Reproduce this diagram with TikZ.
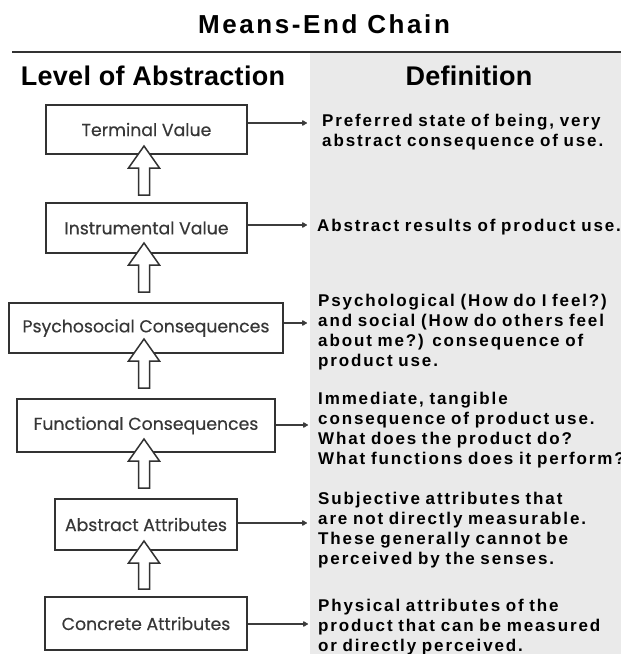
\documentclass[tikz,border=0pt]{standalone}
\usepackage{fontspec}
\setmainfont{Liberation Sans}
\newfontfamily\boxfont{Poppins}[FakeBold=0.4]
\newfontfamily\deffont{Liberation Sans}[LetterSpace=11]
\newfontfamily\titlefont{Liberation Sans}[LetterSpace=10]
\newfontfamily\headfont{Liberation Sans}[LetterSpace=1]
\usetikzlibrary{arrows.meta}
\definecolor{bgc}{RGB}{234,234,234}
\definecolor{ink}{RGB}{50,50,50}
\definecolor{connc}{RGB}{60,60,60}
\definecolor{boxtext}{RGB}{55,55,55}
\newcommand\hollowup[3]{%
  \draw[hollow] (#1,#2) -- (#1+15.5,#2+22) -- (#1+5.5,#2+22) -- (#1+5.5,#3)
    -- (#1-5.5,#3) -- (#1-5.5,#2+22) -- (#1-15.5,#2+22) -- cycle;}
\tikzset{
  lvbox/.style={draw=ink, line width=1.5pt, fill=white, inner sep=0pt,
    font=\boxfont\fontsize{17.3}{20}\selectfont, text=boxtext},
  conn/.style={draw=connc, line width=1.5pt, -{Latex[length=6pt,width=7pt,round]}},
  hollow/.style={draw=ink, line width=1.5pt, fill=white, line join=miter},
  deftext/.style={anchor=base west, inner sep=0pt, align=left, text width=330pt,
    font=\deffont\bfseries\fontsize{17}{20}\selectfont, text=black},
  headtext/.style={anchor=base, inner sep=0pt, font=\headfont\bfseries\fontsize{27}{30}\selectfont},
}
\begin{document}
\begin{tikzpicture}[x=1pt,y=-1pt]
\useasboundingbox (0,0) rectangle (621,654);
\fill[white] (0,0) rectangle (621,654);
\fill[bgc] (310,53) rectangle (621,654);
\draw[ink, line width=2pt] (12,52) -- (621,52);

\node[anchor=base, inner sep=0pt, font=\titlefont\bfseries\fontsize{26}{30}\selectfont] (title) at (324,33) {Means-End Chain};
\node[headtext] (hl) at (153,85) {Level of Abstraction};
\node[headtext] (hr) at (469,85) {Definition};

\node[lvbox, minimum width=201pt, minimum height=49pt] (b1) at (146.5,129.5) {Terminal Value};
\node[lvbox, minimum width=201pt, minimum height=50pt] (b2) at (146.5,228) {Instrumental Value};
\node[lvbox, minimum width=274pt, minimum height=50pt] (b3) at (146,328) {Psychosocial Consequences};
\node[lvbox, minimum width=258pt, minimum height=53pt] (b4) at (146,425.5) {Functional Consequences};
\node[lvbox, minimum width=182pt, minimum height=51pt] (b5) at (146,524.5) {Abstract Attributes};
\node[lvbox, minimum width=202pt, minimum height=53pt] (b6) at (146,623.5) {Concrete Attributes};

\hollowup{144}{146}{195}
\hollowup{144}{243}{292}
\hollowup{144}{339}{388}
\hollowup{144}{439}{488}
\hollowup{144}{541}{589}

\coordinate (d1) at (307,123);
\coordinate (d2) at (307,225);
\coordinate (d3) at (307,323);
\coordinate (d4) at (308,425);
\coordinate (d5) at (307,523);
\coordinate (d6) at (308,624);
\draw[conn] (b1.east |- d1) -- (d1);
\draw[conn] (b2.east |- d2) -- (d2);
\draw[conn] (b3.east |- d3) -- (d3);
\draw[conn] (b4.east |- d4) -- (d4);
\draw[conn] (b5.east |- d5) -- (d5);
\draw[conn] (b6.east |- d6) -- (d6);

\node[deftext] (t1) at (322,126) {Preferred state of being, very\\abstract consequence of use.};
\node[deftext] (t2) at (317,231) {Abstract results of product use.};
\node[deftext] (t3) at (318,306) {Psychological (How do I feel?)\\and social (How do others feel\\about me?) consequence of\\product use.};
\node[deftext] (t4) at (318,404) {Immediate, tangible\\consequence of product use.\\What does the product do?\\What functions does it perform?};
\node[deftext] (t5) at (318,504) {Subjective attributes that\\are not directly measurable.\\These generally cannot be\\perceived by the senses.};
\node[deftext] (t6) at (318,611) {Physical attributes of the\\product that can be measured\\or directly perceived.};
\end{tikzpicture}
\end{document}
